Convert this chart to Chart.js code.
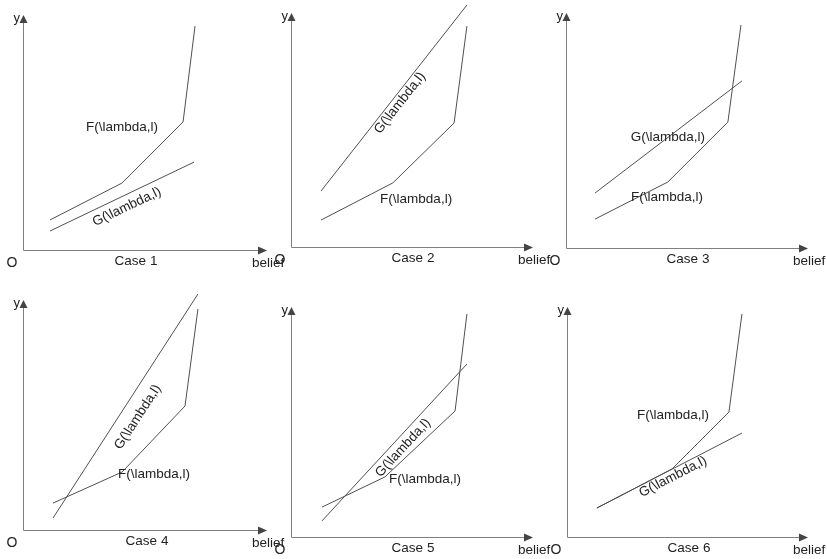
<!DOCTYPE html>
<html><head><meta charset="utf-8">
<script src="https://cdn.jsdelivr.net/npm/chart.js@4"></script>
<style>
html,body{margin:0;padding:0;background:#fff;width:827px;height:559px;overflow:hidden;position:relative}
canvas.p{position:absolute}
</style></head><body>
<script>
// ---- data (x: belief, y: value; 0..100 = axis origin .. arrow tip) ----
const caseTitles = ['Case 1','Case 2','Case 3','Case 4','Case 5','Case 6'];
const fName = 'F(\\lambda,l)';
const gName = 'G(\\lambda,l)';
const xAxisName = 'belief';
const yAxisName = 'y';
const originName = 'O';

const case1F = [[11.1,12.8],[40.6,28.5],[65.6,54.5],[70.5,95.3]];
const case1G = [[11.1,8.1],[70.1,37.4]];
const case2F = [[12.4,11.5],[42.1,27.4],[67.4,53.0],[72.7,94.4]];
const case2G = [[12.4,23.9],[72.7,103.4]];
const case3F = [[12.0,12.3],[42.1,28.1],[66.9,53.6],[72.3,94.9]];
const case3G = [[12.0,23.4],[72.7,71.1]];
const case4F = [[12.3,11.7],[40.6,25.2],[66.4,53.9],[71.7,96.1]];
const case4G = [[12.3,5.2],[71.7,102.6]];
const case5F = [[12.8,13.0],[38.8,26.1],[67.8,54.8],[72.7,97.0]];
const case5G = [[12.8,7.0],[72.7,75.2]];
const case6F = [[12.4,12.6],[43.6,29.6],[67.2,54.3],[72.6,97.0]];
const case6G = [[12.4,12.6],[72.6,45.2]];

const fSeries = [case1F,case2F,case3F,case4F,case5F,case6F];
const gSeries = [case1G,case2G,case3G,case4G,case5G,case6G];

// label anchors (data units)
const fLabelPos = [[40.6,52.3],[51.7,20.5],[41.7,21.7],[53.7,24.3],[55.4,25.2],[44.0,53.0]];
const gLabelPos = [[42.6,18.3],[45.0,61.5],[42.1,47.2],[47.1,49.1],[46.3,38.7],[44.0,26.1]];
const gLabelRotated = [true,true,false,true,true,true];

// ---- layout: axis origin and arrow tips in page pixels ----
const panelBoxes = [
  {ox:23,  oy:250, tx:267, ty:15},
  {ox:291, oy:247, tx:533, ty:13},
  {ox:566, oy:248, tx:808, ty:13},
  {ox:23,  oy:530, tx:267, ty:300},
  {ox:291, oy:537, tx:533, ty:307},
  {ox:567, oy:537, tx:808, ty:307}
];
const caseTitleOffset = [113,122,122,124,122,122];
const pad = {left:22, top:14, right:24, bottom:24};
const FONT = '"Liberation Sans", Arial, sans-serif';
const LINE = '#505050';
const AXIS = '#808080';
const TEXT = '#222';

const sketchPlugin = {
  id: 'sketch',
  beforeDatasetsDraw(chart) {
    const a = chart.chartArea, c = chart.ctx;
    c.save();
    c.strokeStyle = AXIS; c.lineWidth = 1;
    c.beginPath();
    c.moveTo(a.left + 0.5, a.bottom + 0.5); c.lineTo(a.left + 0.5, a.top + 6);
    c.moveTo(a.left + 0.5, a.bottom + 0.5); c.lineTo(a.right - 6, a.bottom + 0.5);
    c.stroke();
    c.fillStyle = '#444';
    c.beginPath();
    c.moveTo(a.left + 0.5, a.top); c.lineTo(a.left + 4.5, a.top + 8); c.lineTo(a.left - 3.5, a.top + 8); c.closePath(); c.fill();
    c.beginPath();
    c.moveTo(a.right, a.bottom + 0.5); c.lineTo(a.right - 9, a.bottom + 4.5); c.lineTo(a.right - 9, a.bottom - 3.5); c.closePath(); c.fill();
    c.restore();
  },
  afterDatasetsDraw(chart) {
    const i = chart.options.plugins.sketch.idx;
    const a = chart.chartArea, c = chart.ctx;
    const xs = chart.scales.x, ys = chart.scales.y;
    c.save();
    c.fillStyle = TEXT;
    c.textBaseline = 'middle';
    c.font = '13px ' + FONT;
    c.textAlign = 'right';
    c.fillText(yAxisName, a.left - 3, a.top + 3);
    c.font = '14px ' + FONT;
    c.textAlign = 'center';
    c.fillText(originName, a.left - 11, a.bottom + 13);
    c.font = '13.5px ' + FONT;
    c.fillText(caseTitles[i], a.left + caseTitleOffset[i], a.bottom + 11);
    c.textAlign = 'left';
    c.fillText(xAxisName, a.right - 15, a.bottom + 13);
    // F label
    c.textAlign = 'center';
    const fp = fLabelPos[i];
    c.fillText(fName, xs.getPixelForValue(fp[0]), ys.getPixelForValue(fp[1]));
    // G label
    const gp = gLabelPos[i];
    const px = xs.getPixelForValue(gp[0]), py = ys.getPixelForValue(gp[1]);
    if (gLabelRotated[i]) {
      const g = gSeries[i];
      const x0 = xs.getPixelForValue(g[0][0]), y0 = ys.getPixelForValue(g[0][1]);
      const x1 = xs.getPixelForValue(g[g.length-1][0]), y1 = ys.getPixelForValue(g[g.length-1][1]);
      const ang = Math.atan2(y1 - y0, x1 - x0);
      c.translate(px, py); c.rotate(ang);
      c.fillText(gName, 0, 0);
    } else {
      c.fillText(gName, px, py);
    }
    c.restore();
  }
};

panelBoxes.forEach((b, i) => {
  const cv = document.createElement('canvas');
  cv.className = 'p';
  const w = (b.tx - b.ox) + pad.left + pad.right;
  const h = (b.oy - b.ty) + pad.top + pad.bottom;
  cv.width = w; cv.height = h;
  cv.style.width = w + 'px'; cv.style.height = h + 'px';
  cv.style.left = (b.ox - pad.left) + 'px';
  cv.style.top = (b.ty - pad.top) + 'px';
  document.body.appendChild(cv);
  const toPts = arr => arr.map(p => ({x: p[0], y: p[1]}));
  new Chart(cv, {
    type: 'line',
    data: {
      datasets: [
        {label: fName, data: toPts(fSeries[i]), borderColor: LINE, borderWidth: 1, pointRadius: 0, tension: 0, fill: false, clip: false},
        {label: gName, data: toPts(gSeries[i]), borderColor: LINE, borderWidth: 1, pointRadius: 0, tension: 0, fill: false, clip: false}
      ]
    },
    options: {
      responsive: false,
      animation: false,
      devicePixelRatio: 1,
      layout: {padding: pad},
      plugins: {legend: {display: false}, tooltip: {enabled: false}, sketch: {idx: i}},
      scales: {
        x: {type: 'linear', min: 0, max: 100, display: false},
        y: {type: 'linear', min: 0, max: 100, display: false}
      }
    },
    plugins: [sketchPlugin]
  });
});
</script>
</body></html>
